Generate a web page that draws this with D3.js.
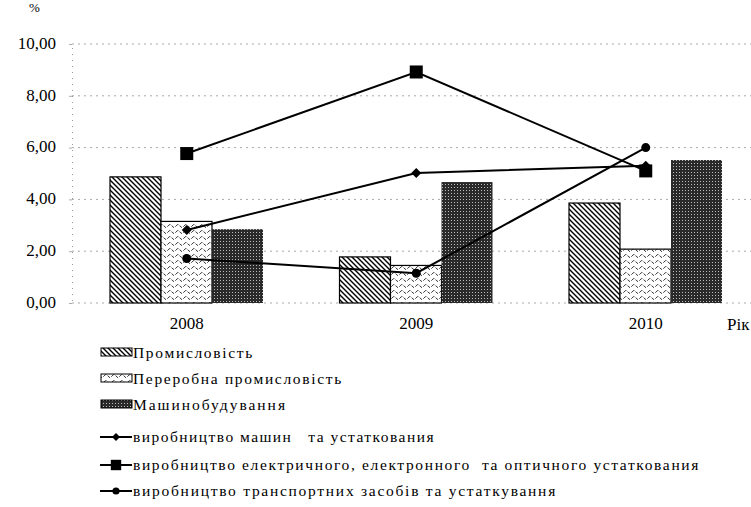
<!DOCTYPE html>
<html>
<head>
<meta charset="utf-8">
<script src="https://cdn.jsdelivr.net/npm/d3@7"></script>
</head>
<body style="margin:0">
<div id="wrap" style="position:relative;width:751px;height:507px;overflow:hidden">
<svg id="chart" width="751" height="507" style="position:absolute;left:0;top:0"></svg>
</div>
<script>
// data
let years = ['2008', '2009', '2010'];
let barNames = ['Промисловість', 'Переробна промисловість', 'Машинобудування'];
let industry = [4.87, 1.78, 3.86];
let processing = [3.15, 1.45, 2.08];
let machinebuilding = [2.85, 4.67, 5.52];

let lineNames = [
    'виробництво машин   та устаткования',
    'виробництво електричного, електронного  та оптичного устаткования',
    'виробництво транспортних засобів та устаткування'
];
let machinery = [2.82, 5.02, 5.3];
let electrical = [5.77, 8.92, 5.1];
let transport = [1.72, 1.15, 6.0];

let yTicks = [0, 2, 4, 6, 8, 10];

let barSeries = [industry, processing, machinebuilding];
let lineSeries = [machinery, electrical, transport];
let markerTypes = ['diamond', 'square', 'circle'];
let patterns = ['diag', 'wave', 'dense'];
// widths of the legend labels in the original (its font is spaced wide)
let legendWidths = [121, 210, 154, 302, 567, 424];

let font = '"Liberation Serif", "Times New Roman", serif';
let svg = d3.select('#chart');
let wrap = d3.select('#wrap');

// fill patterns
let defs = svg.append('defs');

let p1 = defs.append('pattern').attr('id', 'diag')
    .attr('patternUnits', 'userSpaceOnUse').attr('width', 5).attr('height', 5);
p1.append('rect').attr('width', 5).attr('height', 5).attr('fill', '#fff');
p1.append('path').attr('d', 'M-1,-1L6,6M-1,4L1,6M4,-1L6,1')
    .attr('stroke', '#000').attr('stroke-width', 1.4);

let p2 = defs.append('pattern').attr('id', 'wave')
    .attr('patternUnits', 'userSpaceOnUse').attr('width', 8).attr('height', 6);
p2.append('rect').attr('width', 8).attr('height', 6).attr('fill', '#fff');
p2.append('path').attr('d', 'M0,4Q2,1 4,4Q6,7 8,4')
    .attr('fill', 'none').attr('stroke', '#222').attr('stroke-width', 0.9)
    .attr('stroke-dasharray', '3,1.5');

let p3 = defs.append('pattern').attr('id', 'dense')
    .attr('patternUnits', 'userSpaceOnUse').attr('width', 3).attr('height', 3);
p3.append('rect').attr('width', 3).attr('height', 3).attr('fill', '#2a2a2a');
p3.append('rect').attr('x', 1).attr('y', 1).attr('width', 1).attr('height', 1).attr('fill', '#bbb');

// scales
let x0 = d3.scaleBand().domain(years).range([72, 760.5]);
let x1 = d3.scaleBand().domain(d3.range(barSeries.length)).range([38, 191]);
let y = d3.scaleLinear().domain([0, 10]).range([303, 44]);

// grid
svg.append('g').selectAll('line').data(yTicks).join('line')
    .attr('x1', 72).attr('x2', 751)
    .attr('y1', d => y(d)).attr('y2', d => y(d))
    .attr('stroke', '#a8a8a8').attr('stroke-width', 1)
    .attr('stroke-dasharray', '2,4');

// y axis line and ticks (labels are html, below)
let yAxis = svg.append('g').attr('transform', 'translate(72,0)')
    .call(d3.axisLeft(y).tickValues(yTicks).tickSize(3).tickFormat(''));
yAxis.select('.domain').attr('stroke', '#999').attr('stroke-dasharray', '1,5');
yAxis.selectAll('.tick line').attr('stroke', '#aaa');

// bars
barSeries.forEach((series, i) => {
    svg.append('g').selectAll('rect').data(series).join('rect')
        .attr('x', (d, j) => x0(years[j]) + x1(i))
        .attr('y', d => y(d))
        .attr('width', x1.bandwidth())
        .attr('height', d => y(0) - y(d))
        .attr('fill', 'url(#' + patterns[i] + ')')
        .attr('stroke', i == 2 ? 'none' : '#000')
        .attr('stroke-width', 1.2);
});

// markers
function drawMarker(g, type, cx, cy, s) {
    if (type == 'diamond') {
        g.append('path').attr('d', `M${cx},${cy - 5 * s}L${cx + 5 * s},${cy}L${cx},${cy + 5 * s}L${cx - 5 * s},${cy}Z`)
            .attr('fill', '#000');
    } else if (type == 'square') {
        g.append('rect').attr('x', cx - 6.5 * s).attr('y', cy - 6.5 * s)
            .attr('width', 13 * s).attr('height', 13 * s).attr('fill', '#000');
    } else {
        g.append('circle').attr('cx', cx).attr('cy', cy).attr('r', 4.5 * s).attr('fill', '#000');
    }
}

let cx = d => x0(d) + x0.bandwidth() / 2;
let line = d3.line().x((d, j) => cx(years[j])).y(d => y(d));

lineSeries.forEach((series, i) => {
    let g = svg.append('g');
    g.append('path').datum(series).attr('d', line)
        .attr('fill', 'none').attr('stroke', '#000').attr('stroke-width', 2);
    series.forEach((v, j) => drawMarker(g, markerTypes[i], cx(years[j]), y(v), 1));
});

// legend symbols
let legendY = [353, 379, 405, 437, 465, 491];
let legendMarks = svg.append('g');

barNames.forEach((name, i) => {
    legendMarks.append('rect').attr('x', 101).attr('y', legendY[i] - 5)
        .attr('width', 31).attr('height', 8)
        .attr('fill', 'url(#' + patterns[i] + ')')
        .attr('stroke', '#000').attr('stroke-width', 1);
});
lineNames.forEach((name, i) => {
    let ly = legendY[i + 3];
    legendMarks.append('line').attr('x1', 100).attr('x2', 132)
        .attr('y1', ly).attr('y2', ly).attr('stroke', '#000').attr('stroke-width', 2);
    drawMarker(legendMarks, markerTypes[i], 116, ly, 0.8);
});

// text as html labels over the svg
function label(text, x, cy, size, align) {
    let div = wrap.append('div').text(text)
        .style('position', 'absolute')
        .style('top', (cy - size * 0.6) + 'px')
        .style('font-family', font)
        .style('font-size', size + 'px')
        .style('line-height', (size * 1.2) + 'px')
        .style('white-space', 'pre')
        .style('color', '#000');
    if (align == 'right') div.style('right', (751 - x) + 'px');
    else if (align == 'middle') div.style('left', x + 'px').style('transform', 'translateX(-50%)');
    else div.style('left', x + 'px');
    return div;
}

yTicks.forEach(d => label(d3.format('.2f')(d).replace('.', ','), 56, y(d), 17, 'right'));
label('%', 29, 8, 13, 'left');
years.forEach(d => label(d, cx(d), 324, 17, 'middle'));
label('Рік', 727, 325, 17, 'left');

barNames.concat(lineNames).forEach((name, i) => {
    let div = label(name, 133, legendY[i], 15.5, 'left');
    // spread the letters to the width used in the original
    let w = div.node().getBoundingClientRect().width;
    div.style('letter-spacing', ((legendWidths[i] - w) / name.length) + 'px');
});
</script>
</body>
</html>
